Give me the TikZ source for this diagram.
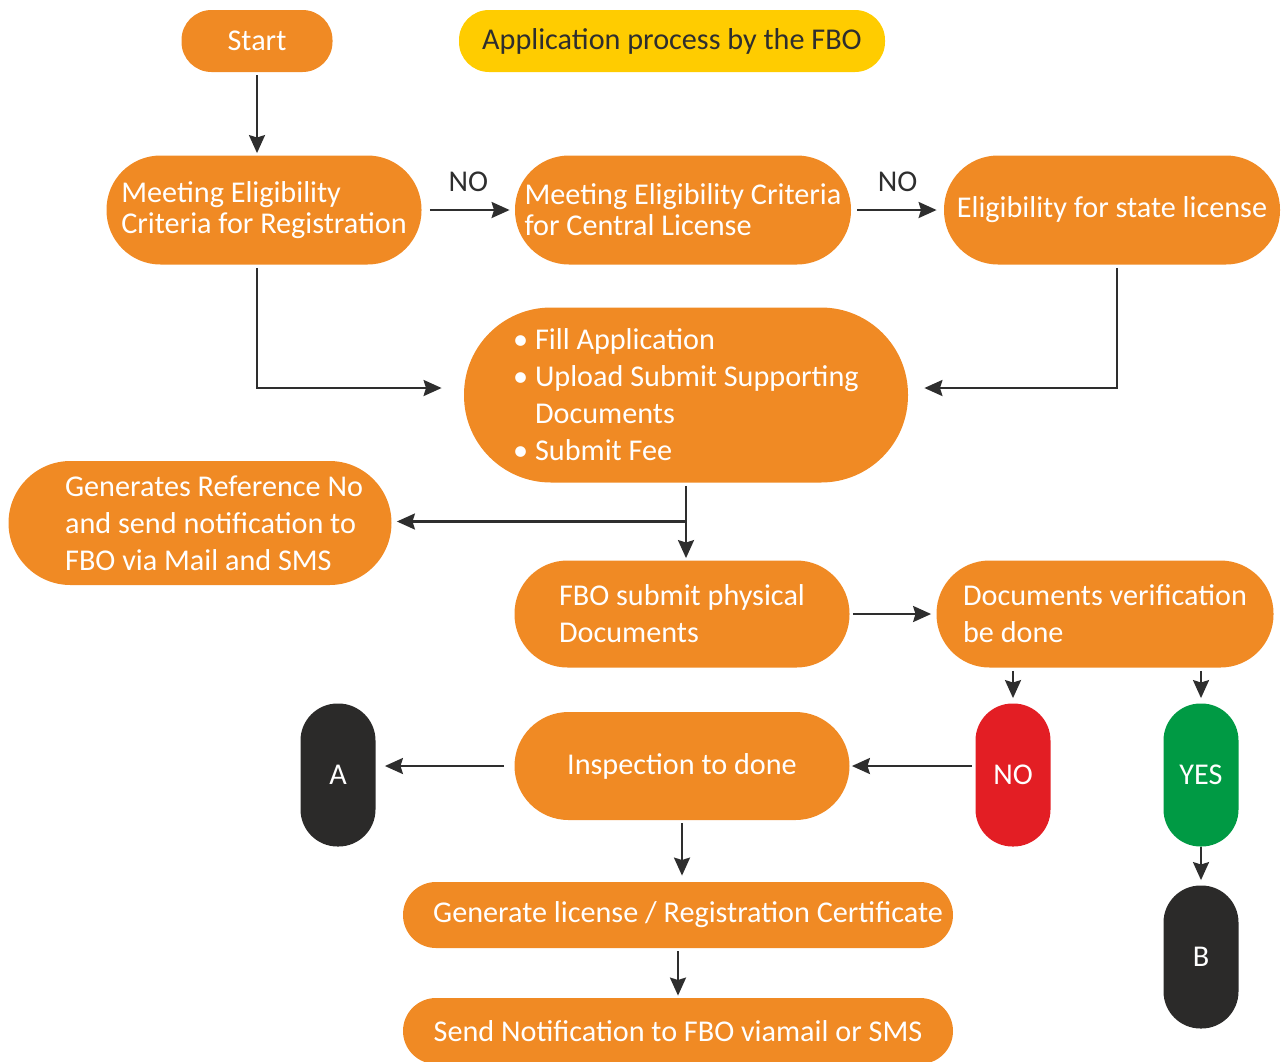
\documentclass[tikz,border=0pt]{standalone}
\usepackage{fontspec}
\setmainfont{Carlito}
\usetikzlibrary{arrows.meta,calc}

\definecolor{fboorange}{HTML}{F08A24}
\definecolor{fboyellow}{HTML}{FFCC00}
\definecolor{fbored}{HTML}{E31E24}
\definecolor{fbogreen}{HTML}{009A44}
\definecolor{fbodark}{HTML}{2B2A29}
\definecolor{linegray}{HTML}{2E2E2E}

\begin{document}
\begin{tikzpicture}[x=0.5pt,y=-0.5pt]
	\tikzset{
	%Define standard arrow tip
	>={Stealth[length=9pt,width=8pt,inset=1.2pt]},
	%Define style for boxes
	pill/.style n args={3}{
		rectangle,
		fill=fboorange,
		text=white,
		inner sep=0pt,
		minimum width=#1*0.5pt,
		minimum height=#2*0.5pt,
		rounded corners=#3*0.5pt,
		align=left,
		font=\fontsize{15.1}{15.5}\selectfont},
	wide/.style={font=\fontsize{15.1}{18.5}\selectfont},
	lbl/.style={text=linegray,font=\fontsize{15.1}{15}\selectfont},
	% Define arrow style
	pil/.style={
		->,
		line width=1.2pt,
		draw=linegray,
		shorten <=1.5pt,
		shorten >=1pt,}
	}
	\useasboundingbox (0,0) rectangle (1285,1061);
	\clip (0,0) rectangle (1285,1061);
	
	%top row
	\node[pill={151}{62}{30}] (start) at (257,41) {Start};
	\node[pill={426}{62}{30},fill=fboyellow,text=linegray] (title) at (672,41) {Application process by the FBO};
	%eligibility row
	\node[pill={315}{109}{54}] (reg) at (264,210) {Meeting Eligibility\\Criteria for Registration};
	\node[pill={336}{109}{54}] (central) at (683,210) {Meeting Eligibility Criteria\\for Central License};
	\node[pill={336}{109}{54}] (state) at (1112,210) {Eligibility for state license};
	%application
	\node[pill={444}{175}{87},wide] (fill) at (686,395) {\textbullet\ Fill Application\\\textbullet\ Upload Submit Supporting\\\hphantom{\textbullet\ }Documents\\\textbullet\ Submit Fee};
	\node[pill={383}{124}{62},wide] (genref) at (200,523) {\hspace*{14pt}Generates Reference No\\\hspace*{14pt}and send notification to\\\hspace*{14pt}FBO via Mail and SMS};
	%documents row
	\node[pill={335}{107}{53},wide] (fbo) at (682,614) {FBO submit physical\\Documents};
	\node[pill={337}{107}{53},wide] (docver) at (1105,614) {Documents verification\\be done};
	%decision
	\node[pill={75}{143}{37},fill=fbored] (no) at (1013,775) {NO};
	\node[pill={75}{143}{37},fill=fbogreen] (yes) at (1201,775) {YES};
	\node[pill={75}{143}{37},fill=fbodark] (b) at (1201,957) {B};
	\node[pill={75}{143}{37},fill=fbodark] (a) at (338,775) {A};
	\node[pill={335}{108}{54}] (insp) at (682,766) {Inspection to done};
	%last steps
	\node[pill={550}{66}{33}] (genlic) at (678,915) {\hspace*{10pt}Generate license / Registration Certificate};
	\node[pill={550}{66}{33}] (send) at (678,1031) {Send Notification to FBO viamail or SMS};
	
	%arrows
	\draw[pil] (start) -- (start |- reg.north);
	\draw[pil,shorten <=4pt,shorten >=2.5pt] (reg) -- node[lbl,above=5pt] (no1) {NO} (central);
	\draw[pil,shorten <=3pt,shorten >=3.5pt] (central) -- node[lbl,above=5pt] (no2) {NO} (state);
	\draw[pil,shorten >=11pt] (reg.south -| start) |- ($(fill.west)+(0,-7)$);
	\draw[pil,shorten >=8pt] ($(state.south)+(5,0)$) |- ($(fill.east)+(0,-7)$);
	\draw[pil] (fill.south) -- (fill.south |- fbo.north);
	\coordinate (br) at ($(fill.south)!.5!(fill.south |- fbo.north)$);
	\draw[pil,shorten <=0pt,shorten >=2.5pt] (br) -- (br -| genref.east);
	\draw[pil,shorten >=2.5pt] (fbo) -- (docver);
	\draw[pil,shorten >=2.5pt] (no.north |- docver.south) -- (no.north);
	\draw[pil,shorten >=2.5pt] (yes.north |- docver.south) -- (yes.north);
	\draw[pil,shorten <=0pt,shorten >=2.5pt] (yes) -- (b);
	\draw[pil] (no.west |- insp) -- (insp);
	\draw[pil,shorten <=5pt,shorten >=4.5pt] (insp) -- (insp -| a.east);
	\draw[pil,shorten >=3pt] (insp) -- (insp |- genlic.north);
	\draw[pil] (genlic) -- (genlic |- send.north);
	
\end{tikzpicture}
\end{document}
